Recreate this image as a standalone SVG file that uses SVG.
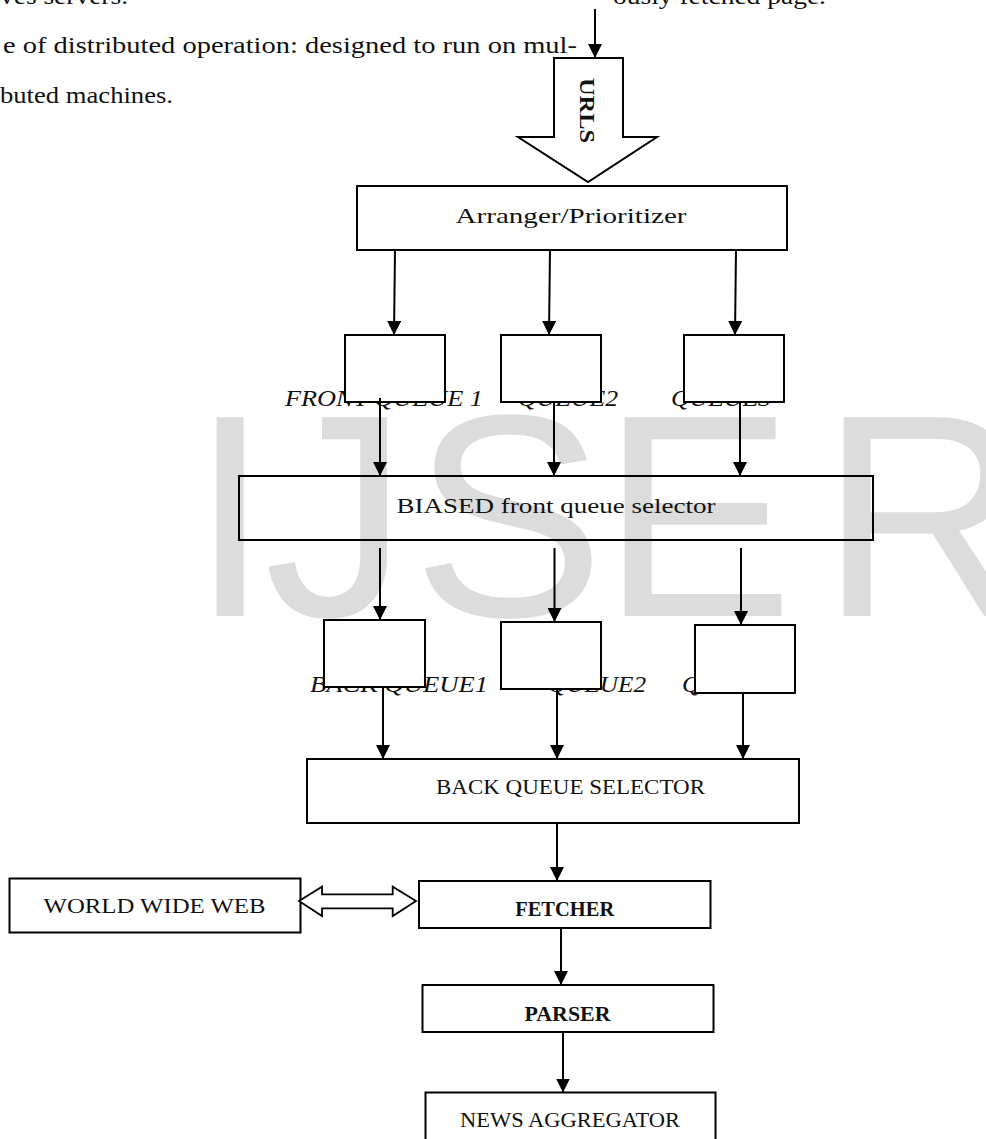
<svg xmlns="http://www.w3.org/2000/svg" width="986" height="1139" viewBox="0 0 986 1139">
<defs>
<style>
.body{font-family:"Liberation Serif",serif;font-size:24px;fill:#111}
.lbl{font-family:"Liberation Serif",serif;font-size:22px;fill:#111;text-anchor:middle}
.it{font-family:"Liberation Serif",serif;font-size:23px;font-style:italic;fill:#111}
.bold{font-weight:bold;font-size:20px}
.box{fill:#fff;stroke:#000;stroke-width:2}
.open{fill:none;stroke:#000;stroke-width:2}
.wm{font-family:"Liberation Sans",Arial,sans-serif;font-size:289px;fill:#dcdcdc}
.con line{stroke:#000;stroke-width:2;marker-end:url(#ah)}
</style>
<marker id="ah" markerUnits="userSpaceOnUse" markerWidth="14" markerHeight="14" refX="14" refY="7" orient="auto" viewBox="0 0 14 14">
<path d="M0,0 L14,7 L0,14 z" fill="#000"/>
</marker>
</defs>
<rect width="986" height="1139" fill="#fff"/>
<g id="watermark">
<text class="wm" x="190 264 412 601 820" y="616">IJSER</text>
</g>
<g id="bodytext">
<text class="body" x="0" y="4" textLength="128" lengthAdjust="spacingAndGlyphs">ves servers.</text>
<text class="body" x="613" y="4" textLength="213" lengthAdjust="spacingAndGlyphs">ously fetched page.</text>
<text class="body" x="3" y="53" textLength="574" lengthAdjust="spacingAndGlyphs">e of distributed operation: designed to run on mul-</text>
<text class="body" x="0" y="103" textLength="173" lengthAdjust="spacingAndGlyphs">buted machines.</text>
</g>
<g id="urls">
<polygon class="box" stroke-width="1.8" points="554,58 623,58 623,137 657,137 588,182 518,137 554,137"/>
<text class="lbl" font-weight="bold" transform="translate(580,110.5) rotate(90)" textLength="65" lengthAdjust="spacingAndGlyphs">URLS</text>
</g>
<g id="arranger">
<rect class="box" x="357" y="186" width="430" height="64"/>
<text class="lbl" x="571" y="223" textLength="231" lengthAdjust="spacingAndGlyphs">Arranger/Prioritizer</text>
</g>
<g id="front-queue-1">
<text class="it" x="285" y="406" textLength="198" lengthAdjust="spacingAndGlyphs">FRONT QUEUE 1</text>
<rect class="box" x="345" y="335" width="100" height="67"/>
</g>
<g id="front-queue-2">
<text class="it" x="518" y="406" textLength="100" lengthAdjust="spacingAndGlyphs">QUEUE2</text>
<rect class="box" x="501" y="335" width="100" height="67"/>
</g>
<g id="front-queue-3">
<text class="it" x="671" y="406" textLength="100" lengthAdjust="spacingAndGlyphs">QUEUE3</text>
<rect class="box" x="684" y="335" width="100" height="67"/>
</g>
<g id="biased-selector">
<rect class="open" x="239" y="476" width="634" height="64"/>
<text class="lbl" x="556" y="513" textLength="319" lengthAdjust="spacingAndGlyphs">BIASED front queue selector</text>
</g>
<g id="back-queue-1">
<text class="it" x="310" y="692" textLength="178" lengthAdjust="spacingAndGlyphs">BACK QUEUE1</text>
<rect class="box" x="324" y="620" width="101" height="67"/>
</g>
<g id="back-queue-2">
<text class="it" x="548" y="692" textLength="98" lengthAdjust="spacingAndGlyphs">QUEUE2</text>
<rect class="box" x="501" y="622" width="100" height="67"/>
</g>
<g id="back-queue-3">
<text class="it" x="682" y="692" textLength="98" lengthAdjust="spacingAndGlyphs">QUEUE3</text>
<rect class="box" x="695" y="625" width="100" height="68"/>
</g>
<g id="back-queue-selector">
<rect class="box" x="307" y="759" width="492" height="64"/>
<text class="lbl" x="570.5" y="794" textLength="269" lengthAdjust="spacingAndGlyphs">BACK QUEUE SELECTOR</text>
</g>
<g id="world-wide-web">
<rect class="box" x="9.5" y="878.5" width="291" height="54"/>
<text class="lbl" x="154.5" y="913" textLength="222" lengthAdjust="spacingAndGlyphs">WORLD WIDE WEB</text>
</g>
<g id="fetcher">
<rect class="box" x="419" y="881" width="291.5" height="47"/>
<text class="lbl bold" x="564.7" y="916" textLength="99" lengthAdjust="spacingAndGlyphs">FETCHER</text>
</g>
<g id="parser">
<rect class="box" x="422.5" y="985" width="291" height="47"/>
<text class="lbl bold" x="567.5" y="1021" textLength="86" lengthAdjust="spacingAndGlyphs">PARSER</text>
</g>
<g id="news-aggregator">
<rect class="box" x="425.5" y="1092.5" width="290" height="60"/>
<text class="lbl" x="570" y="1127" textLength="220" lengthAdjust="spacingAndGlyphs">NEWS AGGREGATOR</text>
</g>
<g id="connectors" class="con">
<line x1="595" y1="9" x2="595" y2="58"/>
<line x1="395" y1="250" x2="394" y2="335"/>
<line x1="550" y1="250" x2="549" y2="335"/>
<line x1="736" y1="250" x2="735" y2="335"/>
<line x1="380" y1="398" x2="380" y2="476"/>
<line x1="554" y1="402" x2="554" y2="476"/>
<line x1="740" y1="402" x2="740" y2="476"/>
<line x1="380" y1="548" x2="380" y2="620"/>
<line x1="554.5" y1="548" x2="554.5" y2="622"/>
<line x1="741" y1="548" x2="741" y2="625"/>
<line x1="383" y1="688" x2="383" y2="759"/>
<line x1="557" y1="690" x2="557" y2="759"/>
<line x1="743" y1="693" x2="743" y2="759"/>
<line x1="557" y1="823" x2="557" y2="881"/>
<line x1="561" y1="928" x2="561" y2="985"/>
<line x1="563" y1="1032" x2="563" y2="1092.5"/>
<polygon points="299,901 322,886.7 322,894.3 392.7,894.3 392.7,886.7 416,901 392.7,916 392.7,908.3 322,908.3 322,916" fill="#fff" stroke="#000" stroke-width="1.8"/>
</g>
</svg>
